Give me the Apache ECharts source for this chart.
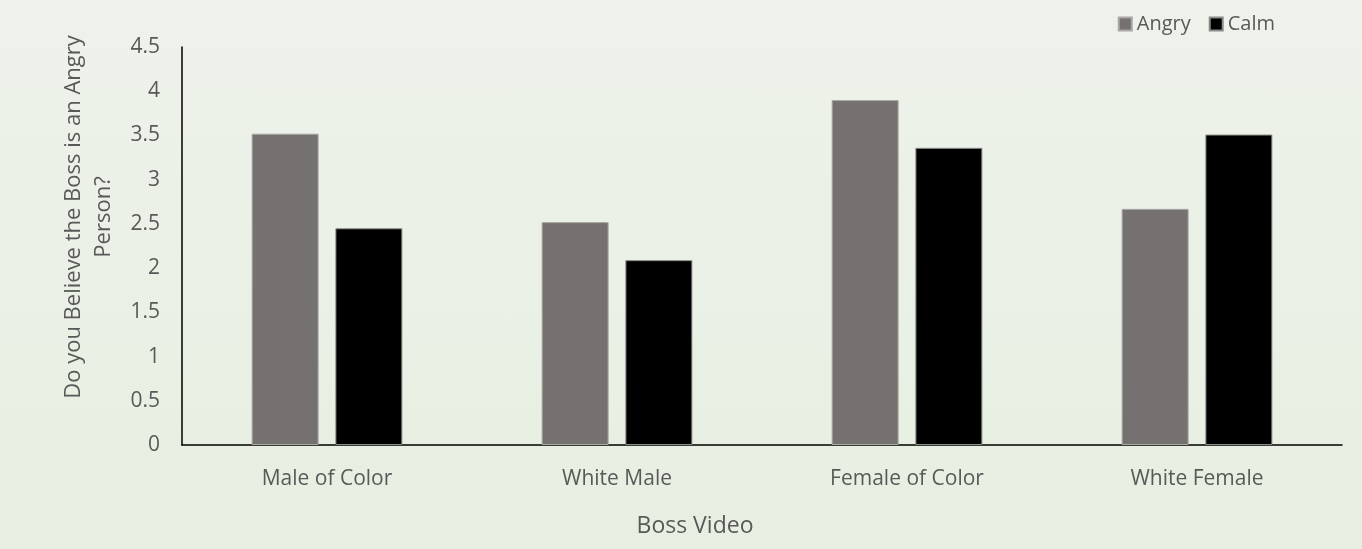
<!DOCTYPE html>
<html>
<head>
<meta charset="utf-8">
<script src="https://cdn.jsdelivr.net/npm/echarts@6/dist/echarts.min.js"></script>
<style>
  html, body { margin: 0; padding: 0; }
  #chart { width: 1362px; height: 549px; background: linear-gradient(#eef2eb, #e6efe1); }
</style>
</head>
<body>
<div id="chart"></div>
<script>
// Boss video categories and mean ratings per condition
const categories = ['Male of Color', 'White Male', 'Female of Color', 'White Female'];
const angryValues = [3.52, 2.52, 3.90, 2.67];
const calmValues = [2.45, 2.09, 3.36, 3.51];
const yTicks = { min: 0, max: 4.5, interval: 0.5 };

const font = '"Open Sans", Lato, sans-serif';
const textColor = '#595959';

const chart = echarts.init(document.getElementById('chart'));
chart.setOption({
  backgroundColor: 'transparent',
  textStyle: { fontFamily: font },
  legend: {
    top: 9,
    right: 82,
    itemWidth: 13,
    itemHeight: 13,
    itemGap: 18,
    icon: 'rect',
    textStyle: { color: textColor, fontSize: 20, fontFamily: font },
    data: ['Angry', 'Calm']
  },
  grid: { left: 182, right: 20, top: 47, bottom: 104 },
  xAxis: {
    type: 'category',
    data: categories,
    name: 'Boss Video',
    nameLocation: 'middle',
    nameGap: 70,
    nameTextStyle: { color: textColor, fontSize: 23, fontFamily: font, padding: [0, 134, 0, 0] },
    axisLine: { lineStyle: { color: '#000', width: 1.5 } },
    axisTick: { show: false },
    axisLabel: { color: textColor, fontSize: 21, margin: 24, fontFamily: font }
  },
  yAxis: {
    type: 'value',
    min: yTicks.min,
    max: yTicks.max,
    interval: yTicks.interval,
    name: 'Do you Believe the Boss is an Angry\nPerson?',
    nameLocation: 'middle',
    nameGap: 63,
    nameTextStyle: { color: textColor, fontSize: 22, lineHeight: 30, fontFamily: font, padding: [0, 0, 0, 58] },
    axisLine: { show: true, lineStyle: { color: '#000', width: 1.5 } },
    axisTick: { show: false },
    splitLine: { show: false },
    axisLabel: { color: textColor, fontSize: 21, margin: 22, fontFamily: font }
  },
  series: [
    {
      name: 'Angry',
      type: 'bar',
      data: angryValues,
      barWidth: 67,
      barGap: '25%',
      itemStyle: { color: '#767171', borderColor: '#a8a8a4', borderWidth: 1 }
    },
    {
      name: 'Calm',
      type: 'bar',
      data: calmValues,
      barWidth: 67,
      itemStyle: { color: '#000000', borderColor: '#8a8c88', borderWidth: 1 }
    }
  ]
});
</script>
</body>
</html>
